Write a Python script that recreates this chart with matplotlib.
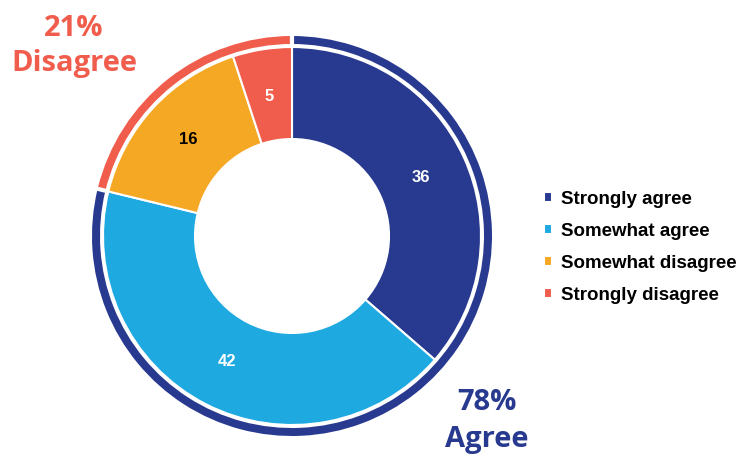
import numpy as np
import matplotlib.pyplot as plt

categorias = ["Strongly agree", "Somewhat agree", "Somewhat disagree", "Strongly disagree"]
valores = [36, 42, 16, 5]
colores = ["#283A90", "#1FA9E1", "#F5A823", "#F15D4C"]
colores_texto = ["white", "white", "black", "white"]

grupos = ["Agree", "Disagree"]
grupos_pct = [78, 21]
colores_grupo = ["#283A90", "#F15D4C"]

fig = plt.figure(figsize=(7.4, 4.57), dpi=100)
ax = fig.add_axes([0, 0, 1, 1])

centro = (292, 221)

# anillo interior (donut)
wedges, textos = ax.pie(valores, center=centro, radius=189, startangle=90, counterclock=False,
                        colors=colores, labels=[str(v) for v in valores], labeldistance=0.75,
                        wedgeprops=dict(width=92, edgecolor="white", linewidth=1.5),
                        textprops=dict(fontsize=12, fontweight="bold", family="Liberation Sans",
                                       ha="center", va="center"), frame=True)
for t, c in zip(textos, colores_texto):
    t.set_color(c)

# anillo exterior con los grupos
anillo, _ = ax.pie(grupos_pct, center=centro, radius=200, startangle=90, counterclock=False,
                   colors=colores_grupo, wedgeprops=dict(width=8, edgecolor="none", linewidth=0),
                   frame=True)
# separaciones blancas entre los grupos
for w in anillo:
    ang = np.deg2rad(w.theta1)
    ax.plot([centro[0] + 190 * np.cos(ang), centro[0] + 203 * np.cos(ang)],
            [centro[1] + 190 * np.sin(ang), centro[1] + 203 * np.sin(ang)],
            color="white", lw=3, solid_capstyle="butt")

ax.set_xlim(0, 740)
ax.set_ylim(0, 457)
ax.set_aspect("equal")
ax.axis("off")

# etiquetas de grupo
ax.text(74, 428, f"{grupos_pct[1]}%", color=colores_grupo[1], fontsize=21, fontweight="bold",
        family="Open Sans", ha="center", va="center")
ax.text(74, 393, grupos[1], color=colores_grupo[1], fontsize=21, fontweight="bold",
        family="Open Sans", ha="center", va="center")
ax.text(487, 54, f"{grupos_pct[0]}%", color=colores_grupo[0], fontsize=21, fontweight="bold",
        family="Open Sans", ha="center", va="center")
ax.text(487, 17, grupos[0], color=colores_grupo[0], fontsize=21, fontweight="bold",
        family="Open Sans", ha="center", va="center")

# leyenda
leg = ax.legend(wedges, categorias, loc="upper left", bbox_to_anchor=(0.712, 0.62),
                frameon=False, handlelength=0.45, handleheight=0.45, handletextpad=0.45,
                labelspacing=0.8, prop=dict(family="Liberation Sans", weight="bold", size=13.5))

fig.savefig("out.png", dpi=100)
